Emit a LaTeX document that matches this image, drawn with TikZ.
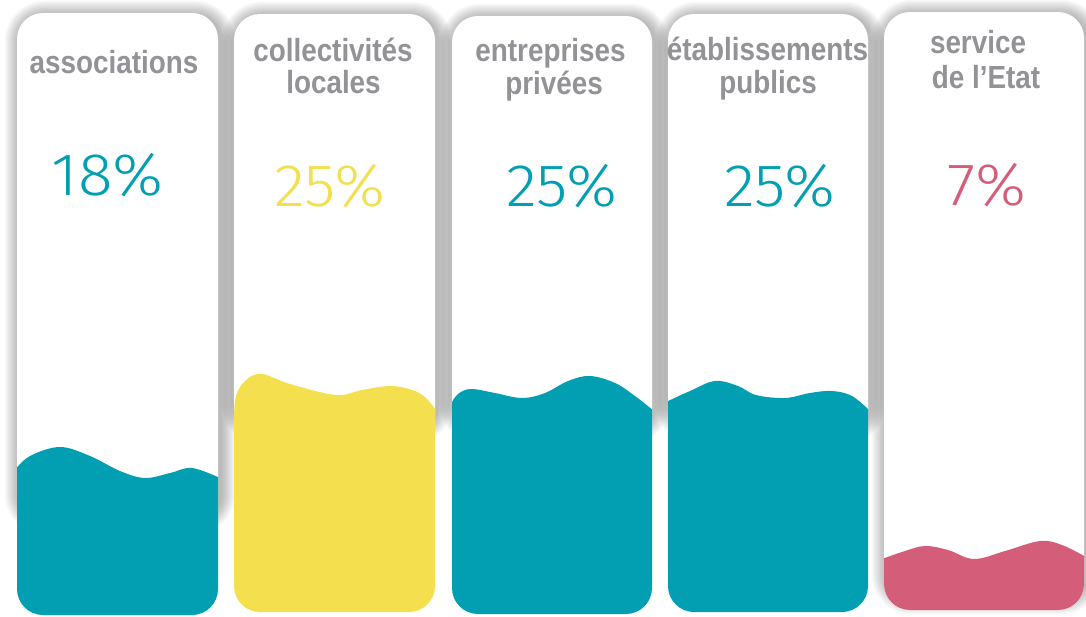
\documentclass[tikz,border=0pt]{standalone}
\usepackage{fontspec}
\setmainfont{Liberation Sans}
\newfontfamily\titlefont{Liberation Sans}[FakeStretch=0.87]
\newfontfamily\pctfont{Fira Sans Light}[FakeStretch=1.07]
\definecolor{titlegray}{HTML}{929297}
\definecolor{cteal}{HTML}{029FB3}
\definecolor{cyellow}{HTML}{F4DF4F}
\definecolor{cpink}{HTML}{D45E7A}
\tikzset{
  titletxt/.style={anchor=base, inner sep=0pt, text=titlegray, font=\titlefont\bfseries\fontsize{32}{32}\selectfont},
  pcttxt/.style={anchor=base, inner sep=0pt, font=\pctfont\fontsize{60}{60}\selectfont},
}
\newcommand\cardshadow[4]{% x0 x1 top shadowbottom
  \foreach \k in {1,...,12}{
    \pgfmathsetmacro\rr{26+\k*1.2}
    \fill[black, opacity=0.024, rounded corners=\rr pt]
      ({#1-\k*1.2+2},{#3-\k*1.2+2}) rectangle ({#2+\k*1.2+3},{#4+\k*1.2});
  }
}
\newcommand\cardbody[4]{% x0 x1 top bottom
  \fill[white, rounded corners=26pt] (#1,#3) rectangle (#2,#4);
}
\begin{document}
\begin{tikzpicture}[x=1pt,y=-1pt]
\useasboundingbox (0,0) rectangle (1086,616);
\fill[white] (0,0) rectangle (1086,616);

% shadows
\cardshadow{17}{218}{13}{520}
\cardshadow{234}{435}{14}{430}
\cardshadow{452}{652}{16}{430}
\cardshadow{668}{868}{14}{430}
\cardshadow{884}{1084}{12}{600}

% card bodies
\cardbody{17}{218}{13}{615}
\cardbody{234}{435}{14}{612}
\cardbody{452}{652}{16}{614}
\cardbody{668}{868}{14}{612}
\cardbody{884}{1084}{12}{610}

% waves
\begin{scope}
  \clip[rounded corners=26pt] (17,13) rectangle (218,615);
  \fill[cteal] plot[smooth, tension=0.6] coordinates {(15,470) (30,456) (60,447) (90,456) (120,471) (145,478) (170,473) (192,468) (220,478)}
    -- (225,625) -- (10,625) -- cycle;
\end{scope}
\begin{scope}
  \clip[rounded corners=26pt] (234,14) rectangle (435,612);
  \fill[cyellow] plot[smooth, tension=0.6] coordinates {(234,420) (236,396) (246,380) (262,374) (290,384) (336,395) (362,390) (391,386) (415,391) (428,400) (437,412)}
    -- (440,620) -- (230,620) -- cycle;
\end{scope}
\begin{scope}
  \clip[rounded corners=26pt] (452,16) rectangle (652,614);
  \fill[cteal] plot[smooth, tension=0.6] coordinates {(451,404) (458,394) (471,389) (495,393) (522,398) (545,393) (568,381) (590,376) (615,383) (635,396) (654,411)}
    -- (660,620) -- (445,620) -- cycle;
\end{scope}
\begin{scope}
  \clip[rounded corners=26pt] (668,14) rectangle (868,612);
  \fill[cteal] plot[smooth, tension=0.6] coordinates {(666,402) (690,391) (715,381) (738,386) (756,395) (785,398) (810,393) (832,391) (852,396) (870,411)}
    -- (875,620) -- (660,620) -- cycle;
\end{scope}
\begin{scope}
  \clip[rounded corners=26pt] (884,12) rectangle (1084,610);
  \fill[cpink] plot[smooth, tension=0.6] coordinates {(882,559) (905,551) (925,546) (948,550) (974,559) (1005,551) (1040,541) (1062,545) (1086,557)}
    -- (1090,620) -- (880,620) -- cycle;
\end{scope}

% titles
\node[titletxt] (t1) at (114,73.3) {associations};
\node[titletxt] (t2a) at (333,61.7) {collectivités};
\node[titletxt] (t2b) at (333.5,93.3) {locales};
\node[titletxt] (t3a) at (550.5,61) {entreprises};
\node[titletxt] (t3b) at (554,94) {privées};
\node[titletxt] (t4a) at (767.5,60.7) {établissements};
\node[titletxt] (t4b) at (768,93) {publics};
\node[titletxt] (t5a) at (978,53.3) {service};
\node[titletxt] (t5b) at (986,88.3) {de l’Etat};

% percentages
\node[pcttxt, text=cteal] (p1) at (107.8,195) {18\%};
\node[pcttxt, text=cyellow] (p2) at (330,206) {25\%};
\node[pcttxt, text=cteal] (p3) at (562,206) {25\%};
\node[pcttxt, text=cteal] (p4) at (780,206) {25\%};
\node[pcttxt, text=cpink] (p5) at (987,205) {7\%};
\end{tikzpicture}
\end{document}
